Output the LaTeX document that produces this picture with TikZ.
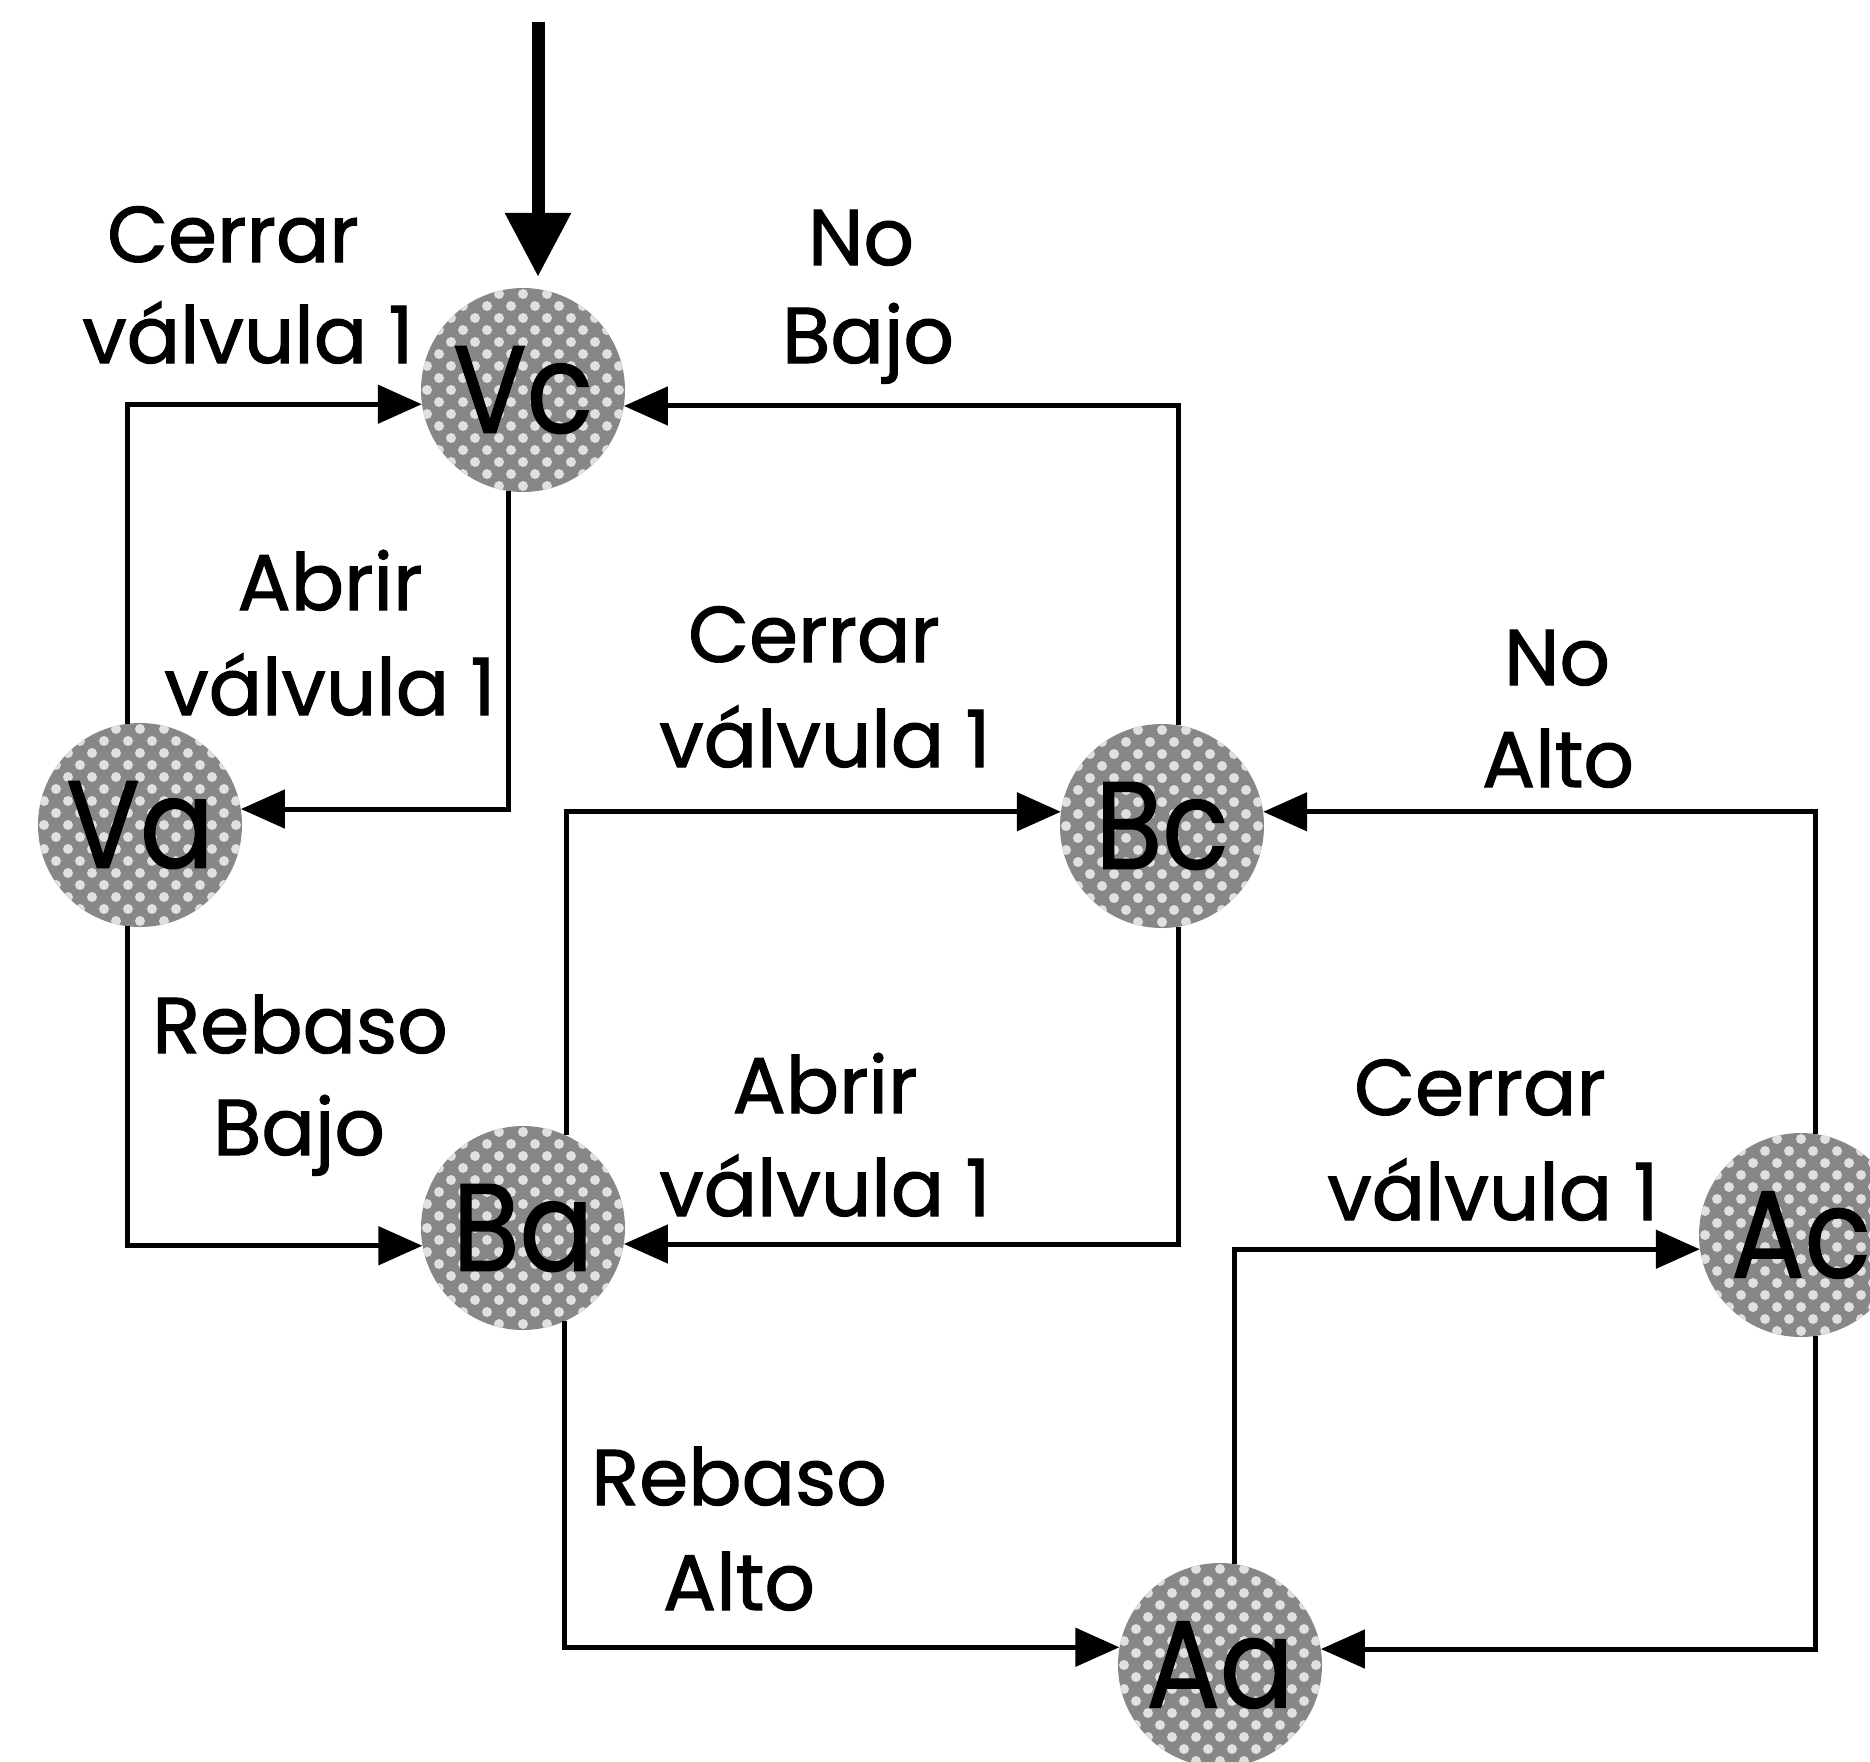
\documentclass[tikz,border=0pt]{standalone}
\usepackage{fontspec}
\setmainfont{Poppins}
\newfontfamily\labelfont{Poppins}[FakeBold=1.3]
\newfontfamily\statefont{Poppins}[FakeBold=1.1,FakeStretch=0.88]
\usetikzlibrary{arrows.meta,calc}
\begin{document}
\begin{tikzpicture}[x=1pt,y=-1pt,
  % textured grey state circle: diagonal grid of light dots over grey
  stnode/.style={circle, minimum size=204pt, inner sep=0pt, fill=black!47,
    font=\statefont\fontsize{124}{124}\selectfont,
    path picture={
      \foreach \i in {-7,...,7}{\foreach \j in {-7,...,7}{
        \fill[black!12] ($(path picture bounding box.center)+({(\i-\j)*12pt},{(\i+\j)*12pt})$) circle (5pt);}}}},
  link/.style={line width=5pt, -{Triangle[length=44pt,width=38pt]}},
  lbl/.style={font=\labelfont\fontsize{79}{103}\selectfont, anchor=base, inner sep=0pt}]
\useasboundingbox (0,0) rectangle (1870,1761);

% states
\node[stnode] (Vc) at (523,390)  {Vc};
\node[stnode] (Va) at (140,825)  {Va};
\node[stnode] (Bc) at (1162,826) {Bc};
\node[stnode] (Ba) at (523,1228) {Ba};
\node[stnode] (Ac) at (1801,1235){Ac};
\node[stnode] (Aa) at (1220,1665){Aa};

% initial arrow
\coordinate (start) at (538,22);
\draw[line width=13pt, -{Triangle[length=64pt,width=63pt]}, shorten >=11pt]
  (start) -- (start |- Vc.north);

% transitions
\draw[link] (Va.97)  |- (Vc.188);
\draw[link] (Vc.262) |- (Va.9);
\draw[link] (Va.263) |- (Ba.190);
\draw[link] (Bc.81)  |- (Vc.351);
\draw[link] (Ba.65)  |- (Bc.172);
\draw[link] (Bc.279) |- (Ba.351);
\draw[link] (Ba.294) |- (Aa.170);
\draw[link] (Aa.82)  |- (Ac.188);
\draw[link] (Ac.82)  |- (Bc.8);
\draw[link] (Ac.278) |- (Aa.9);

% transition labels
\node[lbl] (t1a) at (233,262)  {Cerrar};
\node[lbl] (t1b) at (248,363)  {válvula 1};
\node[lbl] (t2a) at (861,265)  {No};
\node[lbl] (t2b) at (868,363)  {Bajo};
\node[lbl] (t3a) at (330,610)  {Abrir};
\node[lbl] (t3b) at (330,715)  {válvula 1};
\node[lbl] (t4a) at (814,662)  {Cerrar};
\node[lbl] (t4b) at (825,767)  {válvula 1};
\node[lbl] (t5a) at (1557,685) {No};
\node[lbl] (t5b) at (1558,787) {Alto};
\node[lbl] (t6a) at (300,1053) {Rebaso};
\node[lbl] (t6b) at (299,1155) {Bajo};
\node[lbl] (t7a) at (825,1113) {Abrir};
\node[lbl] (t7b) at (825,1216) {válvula 1};
\node[lbl] (t8a) at (1480,1115){Cerrar};
\node[lbl] (t8b) at (1493,1220){válvula 1};
\node[lbl] (t9a) at (739,1505) {Rebaso};
\node[lbl] (t9b) at (739,1610) {Alto};
\end{tikzpicture}
\end{document}
